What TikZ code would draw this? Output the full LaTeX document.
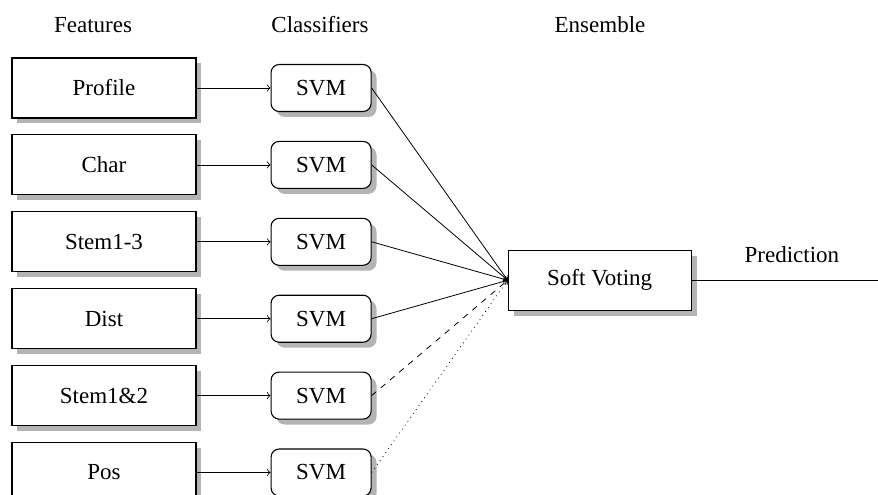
\documentclass[tikz,border=0pt]{standalone}
\usepackage{fontspec}
\setmainfont{Liberation Serif}
\usepackage{tikz}
\usetikzlibrary{positioning,shadows,calc}
\definecolor{ensShadow}{HTML}{B4B4B4}
\definecolor{ensInk}{HTML}{000000}
\tikzset{
  ensArrow/.style={->, draw=ensInk},
  ensFeature/.style={
    draw=ensInk,
    fill=white,
    line width=0.55pt,
    minimum width=92pt,
    minimum height=30pt,
    inner sep=2pt,
    drop shadow={shadow xshift=2.7pt, shadow yshift=-2.7pt, fill=ensShadow, opacity=1}
  },
  ensSvm/.style={
    draw=ensInk,
    fill=white,
    line width=0.55pt,
    rounded corners=4pt,
    minimum width=50pt,
    minimum height=23.5pt,
    inner sep=2pt,
    drop shadow={shadow xshift=2.7pt, shadow yshift=-2.7pt, fill=ensShadow, opacity=1}
  },
  ensVote/.style={
    draw=ensInk,
    fill=white,
    line width=0.55pt,
    minimum width=91.5pt,
    minimum height=30pt,
    inner sep=2pt,
    drop shadow={shadow xshift=2.7pt, shadow yshift=-2.7pt, fill=ensShadow, opacity=1}
  },
  ensHead/.style={anchor=base, inner sep=0pt}
}

\begin{document}
\begin{tikzpicture}[
      font=\fontsize{11.5pt}{13pt}\selectfont,
      node distance=7.9pt
    ]
      \useasboundingbox (0,0) rectangle (439pt,-247pt);

      \node[ensHead] (hfeat) at (46.5pt,-16pt) {Features};
      \node[ensHead] (hcls) at (160pt,-16pt) {Classifiers};
      \node[ensHead] (hens) at (300pt,-16pt) {Ensemble};

      \node[ensFeature] (profile) at (52pt,-44pt) {Profile};
      \node[ensFeature, below=of profile] (char) {Char};
      \node[ensFeature, below=of char] (stem) {Stem1-3};
      \node[ensFeature, below=of stem] (dist) {Dist};
      \node[ensFeature, below=of dist] (stemtwo) {Stem1\&2};
      \node[ensFeature, below=of stemtwo] (pos) {Pos};

      \foreach \f in {profile,char,stem,dist,stemtwo,pos} {
        \node[ensSvm, right=37pt of \f] (svm\f) {SVM};
        \draw[ensArrow] (\f) -- (svm\f);
      }

      \node[ensVote, right=68pt of $(svmstem.east)!.5!(svmdist.east)$, anchor=west] (vote) {Soft Voting};
      \coordinate[right=94.5pt of vote.east] (out);

      \draw[ensArrow] (svmprofile.east) -- (vote.west);
      \draw[ensArrow] (svmchar.east) -- (vote.west);
      \draw[ensArrow] (svmstem.east) -- (vote.west);
      \draw[ensArrow] (svmdist.east) -- (vote.west);
      \draw[ensArrow, dashed] (svmstemtwo.east) -- (vote.west);
      \draw[ensArrow, dotted] (svmpos.east) -- (vote.west);
      \draw (vote.east) -- node[pos=.53, above=5pt] {Prediction} (out);
    \end{tikzpicture}
\end{document}
